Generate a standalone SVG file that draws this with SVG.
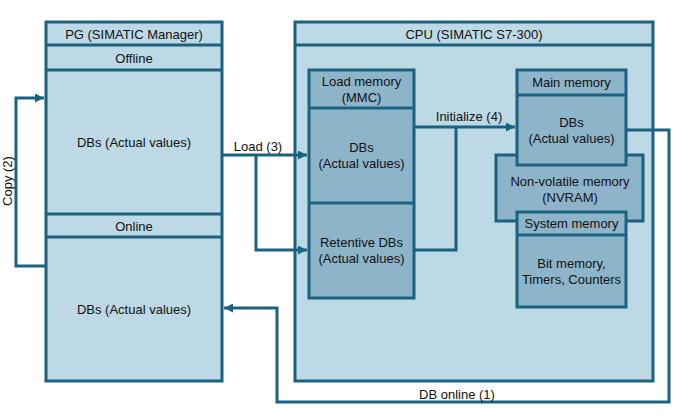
<svg xmlns="http://www.w3.org/2000/svg" width="681" height="419" viewBox="0 0 681 419">
<defs>
<marker id="ah" viewBox="0 0 10 10" refX="10" refY="5" markerWidth="9" markerHeight="9" markerUnits="userSpaceOnUse" orient="auto">
<path d="M0,0 L10,5 L0,10 z" fill="#1b6280"/>
</marker>
<style>
.lt{fill:#bcd9e5;stroke:#1b6280;stroke-width:3}
.dk{fill:#8eb4ca;stroke:#1b6280;stroke-width:3}
.ln{fill:none;stroke:#1b6280;stroke-width:3}
text{font-family:"Liberation Sans",Arial,sans-serif;font-size:13px;fill:#111;text-anchor:middle}
</style>
</defs>
<rect width="681" height="419" fill="#fff"/>
<g id="pg">
<rect class="lt" x="46" y="22" width="176" height="359"/>
<line class="ln" x1="46" y1="45" x2="222" y2="45"/>
<line class="ln" x1="46" y1="70" x2="222" y2="70"/>
<line class="ln" x1="46" y1="214" x2="222" y2="214"/>
<line class="ln" x1="46" y1="237" x2="222" y2="237"/>
<text x="134" y="39">PG (SIMATIC Manager)</text>
<text x="134" y="63">Offline</text>
<text x="134" y="147">DBs (Actual values)</text>
<text x="134" y="231">Online</text>
<text x="134" y="314">DBs (Actual values)</text>
</g>
<g id="cpu">
<rect class="lt" x="295" y="22" width="358" height="359"/>
<line class="ln" x1="295" y1="45" x2="653" y2="45"/>
<text x="474" y="39">CPU (SIMATIC S7-300)</text>
</g>
<g id="load-memory">
<rect class="dk" x="309" y="70" width="105" height="228"/>
<line class="ln" x1="309" y1="108" x2="414" y2="108"/>
<line class="ln" x1="309" y1="203" x2="414" y2="203"/>
<text x="361.5" y="86">Load memory</text>
<text x="361.5" y="102">(MMC)</text>
<text x="361.5" y="152">DBs</text>
<text x="361.5" y="168">(Actual values)</text>
<text x="361.5" y="247">Retentive DBs</text>
<text x="361.5" y="263">(Actual values)</text>
</g>
<g id="nvram">
<rect class="dk" x="496" y="155" width="147" height="66"/>
<text x="570" y="186">Non-volatile memory</text>
<text x="570" y="202">(NVRAM)</text>
</g>
<g id="main-memory">
<rect class="dk" x="517" y="70" width="109" height="95"/>
<line class="ln" x1="517" y1="95" x2="626" y2="95"/>
<text x="571.5" y="87">Main memory</text>
<text x="571.5" y="127">DBs</text>
<text x="571.5" y="143">(Actual values)</text>
</g>
<g id="system-memory">
<rect class="dk" x="517" y="212" width="109" height="95"/>
<line class="ln" x1="517" y1="235" x2="626" y2="235"/>
<text x="571.5" y="228">System memory</text>
<text x="571.5" y="268">Bit memory,</text>
<text x="571.5" y="284">Timers, Counters</text>
</g>
<g id="connectors">
<polyline class="ln" points="46,266 16,266 16,98 44,98" marker-end="url(#ah)"/>
<polyline class="ln" points="222,155 307,155" marker-end="url(#ah)"/>
<polyline class="ln" points="256,155 256,250 307,250" marker-end="url(#ah)"/>
<polyline class="ln" points="414,127 515,127" marker-end="url(#ah)"/>
<polyline class="ln" points="456,127 456,250 414,250"/>
<polyline class="ln" points="626,130 669,130 669,402 277,402 277,308 224,308" marker-end="url(#ah)"/>
<text x="258" y="151">Load (3)</text>
<text x="469" y="121">Initialize (4)</text>
<text x="457" y="399">DB online (1)</text>
<text transform="translate(12,181) rotate(-90)">Copy (2)</text>
</g>
</svg>
